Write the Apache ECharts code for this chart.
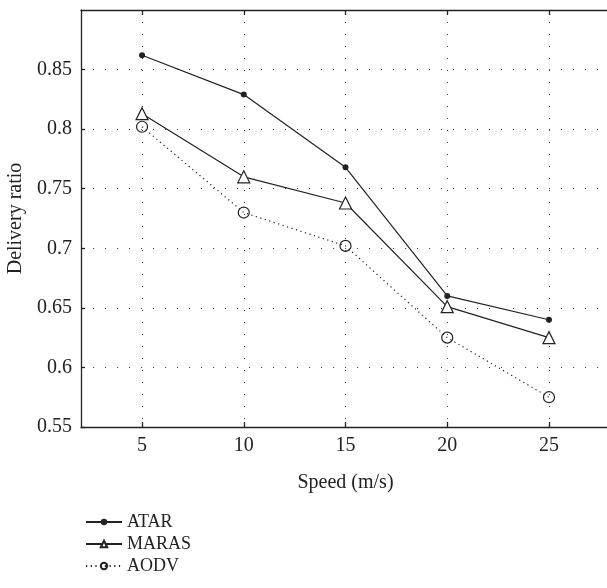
<!DOCTYPE html>
<html>
<head>
<meta charset="utf-8">
<script src="https://cdn.jsdelivr.net/npm/echarts@6/dist/echarts.min.js"></script>
<style>
  html, body { margin: 0; padding: 0; background: #fff; }
  #chart { width: 607px; height: 588px; }
</style>
</head>
<body>
<div id="chart"></div>
<script>
// Node speed (m/s) on the x axis
const speeds = [5, 10, 15, 20, 25];
// Delivery ratio per routing protocol
const atar = [0.862, 0.829, 0.768, 0.660, 0.640];
const maras = [0.813, 0.760, 0.738, 0.651, 0.625];
const aodv = [0.802, 0.730, 0.702, 0.625, 0.575];
// Tick positions
const xTicks = [5, 10, 15, 20, 25];

const FONT = '"Liberation Serif", "DejaVu Serif", serif';
const INK = '#222';
const GRID_DOTS = { color: '#444', width: 1, type: [1, 11] };

const pairs = (ys) => speeds.map((x, i) => [x, ys[i]]);

const chart = echarts.init(document.getElementById('chart'), null, { renderer: 'canvas' });

const xCommon = {
  type: 'value',
  min: 2,
  max: 28,
  axisLine: { show: true, onZero: false, lineStyle: { color: INK, width: 1.3 } },
  axisTick: { show: true, inside: true, length: 5, customValues: xTicks, lineStyle: { color: INK, width: 1.3 } }
};

chart.setOption({
  animation: false,
  backgroundColor: '#fff',
  textStyle: { fontFamily: FONT },
  grid: { left: 81, top: 10, right: -3, bottom: 161, containLabel: false, outerBoundsMode: 'none' },
  legend: {
    orient: 'vertical',
    left: 80,
    top: 508,
    itemWidth: 36,
    itemHeight: 8,
    itemGap: 4,
    textStyle: { fontFamily: FONT, fontSize: 18, color: INK },
    data: ['ATAR', 'MARAS', 'AODV']
  },
  xAxis: [
    Object.assign({}, xCommon, {
      position: 'bottom',
      name: 'Speed (m/s)',
      nameLocation: 'middle',
      nameGap: 46,
      nameTextStyle: { fontFamily: FONT, fontSize: 20, color: INK },
      axisLabel: { customValues: xTicks, margin: 9, fontFamily: FONT, fontSize: 20, color: INK },
      splitLine: { show: true, lineStyle: GRID_DOTS }
    }),
    Object.assign({}, xCommon, {
      position: 'top',
      axisLabel: { show: false },
      splitLine: { show: false }
    })
  ],
  yAxis: {
    type: 'value',
    min: 0.55,
    max: 0.9,
    interval: 0.05,
    name: 'Delivery ratio',
    nameLocation: 'middle',
    nameGap: 53,
    nameTextStyle: { fontFamily: FONT, fontSize: 20, color: INK },
    axisLine: { show: true, lineStyle: { color: INK, width: 1.3 } },
    axisTick: { show: true, inside: true, length: 4, lineStyle: { color: INK, width: 1.3 } },
    axisLabel: {
      margin: 9,
      fontFamily: FONT,
      fontSize: 20,
      color: INK,
      showMaxLabel: false,
      formatter: (v) => String(Math.round(v * 100) / 100)
    },
    splitLine: { show: true, lineStyle: GRID_DOTS }
  },
  series: [
    {
      name: 'ATAR',
      type: 'line',
      data: pairs(atar),
      symbol: 'circle',
      symbolSize: 6,
      itemStyle: { color: INK },
      lineStyle: { color: INK, width: 1.2 }
    },
    {
      name: 'MARAS',
      type: 'line',
      data: pairs(maras),
      symbol: 'triangle',
      symbolSize: 12,
      itemStyle: { color: '#fff', borderColor: INK, borderWidth: 1.2 },
      lineStyle: { color: INK, width: 1.2 }
    },
    {
      name: 'AODV',
      type: 'line',
      data: pairs(aodv),
      symbol: 'circle',
      symbolSize: 11,
      itemStyle: { color: 'rgba(255,255,255,0)', borderColor: INK, borderWidth: 1.2 },
      lineStyle: { color: INK, width: 1.2, type: [1.2, 3.5] }
    }
  ]
});
</script>
</body>
</html>
